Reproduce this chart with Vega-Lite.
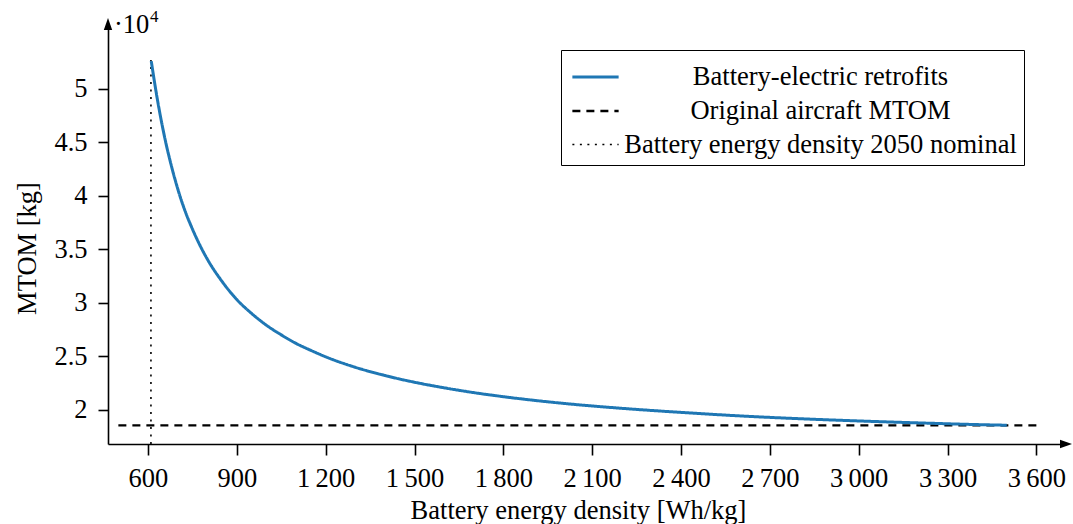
{
  "$schema": "https://vega.github.io/schema/vega-lite/v6.json",
  "width": 958,
  "height": 420,
  "autosize": {"type": "none"},
  "padding": {"left": 108, "top": 24, "right": 7, "bottom": 80},
  "background": "white",
  "config": {
    "view": {"stroke": null},
    "font": "Liberation Serif",
    "axis": {
      "grid": false,
      "domainColor": "black",
      "domainWidth": 1.6,
      "tickColor": "black",
      "tickWidth": 1.6,
      "labelColor": "black",
      "labelFont": "Liberation Serif",
      "labelFontSize": 26.5,
      "titleFont": "Liberation Serif",
      "titleFontSize": 26.5,
      "titleFontWeight": "normal",
      "titleColor": "black",
      "labelOverlap": false,
      "labelFlush": false
    }
  },
  "layer": [
    {
      "data": {
        "values": [
          {"series": "Battery energy density 2050 nominal", "e": 610, "m": 16794},
          {"series": "Battery energy density 2050 nominal", "e": 610, "m": 52700},
          {"series": "Original aircraft MTOM", "e": 500, "m": 18530},
          {"series": "Original aircraft MTOM", "e": 3600, "m": 18530},
          {"series": "Battery-electric retrofits", "e": 611, "m": 52600},
          {"series": "Battery-electric retrofits", "e": 620, "m": 51000},
          {"series": "Battery-electric retrofits", "e": 630, "m": 49300},
          {"series": "Battery-electric retrofits", "e": 640, "m": 47750},
          {"series": "Battery-electric retrofits", "e": 660, "m": 45000},
          {"series": "Battery-electric retrofits", "e": 680, "m": 42700},
          {"series": "Battery-electric retrofits", "e": 700, "m": 40700},
          {"series": "Battery-electric retrofits", "e": 725, "m": 38600},
          {"series": "Battery-electric retrofits", "e": 750, "m": 36900},
          {"series": "Battery-electric retrofits", "e": 775, "m": 35400},
          {"series": "Battery-electric retrofits", "e": 800, "m": 34100},
          {"series": "Battery-electric retrofits", "e": 850, "m": 32000},
          {"series": "Battery-electric retrofits", "e": 900, "m": 30300},
          {"series": "Battery-electric retrofits", "e": 950, "m": 29000},
          {"series": "Battery-electric retrofits", "e": 1000, "m": 27900},
          {"series": "Battery-electric retrofits", "e": 1050, "m": 27000},
          {"series": "Battery-electric retrofits", "e": 1100, "m": 26200},
          {"series": "Battery-electric retrofits", "e": 1150, "m": 25550},
          {"series": "Battery-electric retrofits", "e": 1200, "m": 24950},
          {"series": "Battery-electric retrofits", "e": 1300, "m": 23970},
          {"series": "Battery-electric retrofits", "e": 1400, "m": 23200},
          {"series": "Battery-electric retrofits", "e": 1500, "m": 22570},
          {"series": "Battery-electric retrofits", "e": 1600, "m": 22050},
          {"series": "Battery-electric retrofits", "e": 1700, "m": 21600},
          {"series": "Battery-electric retrofits", "e": 1800, "m": 21220},
          {"series": "Battery-electric retrofits", "e": 2000, "m": 20600},
          {"series": "Battery-electric retrofits", "e": 2200, "m": 20130},
          {"series": "Battery-electric retrofits", "e": 2400, "m": 19750},
          {"series": "Battery-electric retrofits", "e": 2600, "m": 19420},
          {"series": "Battery-electric retrofits", "e": 2800, "m": 19160},
          {"series": "Battery-electric retrofits", "e": 3000, "m": 18950},
          {"series": "Battery-electric retrofits", "e": 3200, "m": 18770},
          {"series": "Battery-electric retrofits", "e": 3400, "m": 18610},
          {"series": "Battery-electric retrofits", "e": 3500, "m": 18550}
        ]
      },
      "mark": {"type": "line", "clip": false, "interpolate": "monotone"},
      "encoding": {
        "x": {
          "field": "e",
          "type": "quantitative",
          "scale": {"domain": [465, 3700], "nice": false, "zero": false},
          "axis": {
            "values": [600, 900, 1200, 1500, 1800, 2100, 2400, 2700, 3000, 3300, 3600],
            "labelExpr": "replace(format(datum.value, ','), ',', '\u2009')",
            "tickSize": 11,
            "labelPadding": 10,
            "title": "Battery energy density [Wh/kg]",
            "titleX": 470,
            "titleY": 74,
            "titleBaseline": "alphabetic",
            "titleAlign": "center"
          }
        },
        "y": {
          "field": "m",
          "type": "quantitative",
          "scale": {"domain": [16794, 56070], "nice": false, "zero": false},
          "axis": {
            "values": [20000, 25000, 30000, 35000, 40000, 45000, 50000],
            "labelExpr": "format(datum.value / 10000, '~g')",
            "tickSize": 10,
            "labelPadding": 11,
            "title": "MTOM [kg]",
            "titleAngle": 270,
            "titleX": -73,
            "titleY": 224,
            "titleBaseline": "alphabetic",
            "titleAlign": "center"
          }
        },
        "color": {
          "field": "series",
          "type": "nominal",
          "scale": {
            "domain": ["Battery-electric retrofits", "Original aircraft MTOM", "Battery energy density 2050 nominal"],
            "range": ["#1f77b4", "black", "black"]
          },
          "legend": {
            "title": null,
            "orient": "none",
            "legendX": 453,
            "legendY": 26,
            "symbolType": "M-1.25,0H1.25",
            "symbolSize": 1369,
            "symbolOffset": 7.5,
            "labelFont": "Liberation Serif",
            "labelFontSize": 26.5,
            "labelColor": "black",
            "labelAlign": "center",
            "labelOffset": 205,
            "labelLimit": 600,
            "strokeColor": "black",
            "fillColor": "white",
            "cornerRadius": 0,
            "padding": 7,
            "rowPadding": 0
          }
        },
        "strokeDash": {
          "field": "series",
          "type": "nominal",
          "scale": {
            "domain": ["Battery-electric retrofits", "Original aircraft MTOM", "Battery energy density 2050 nominal"],
            "range": [[1, 0], [8, 6], [2, 5.5]]
          }
        },
        "strokeWidth": {
          "field": "series",
          "type": "nominal",
          "scale": {
            "domain": ["Battery-electric retrofits", "Original aircraft MTOM", "Battery energy density 2050 nominal"],
            "range": [3, 1.6, 2]
          }
        }
      }
    },
    {
      "data": {"values": [{"e": 465, "m": 56070, "s": "up"}, {"e": 3700, "m": 16794, "s": "right"}]},
      "mark": {"type": "point", "filled": true, "color": "black", "opacity": 1, "size": 144, "clip": false},
      "encoding": {
        "x": {"field": "e", "type": "quantitative"},
        "y": {"field": "m", "type": "quantitative"},
        "shape": {
          "field": "s",
          "type": "nominal",
          "scale": {"domain": ["up", "right"], "range": ["M0,-1L0.7,1L-0.7,1Z", "M1,0L-1,-0.7L-1,0.7Z"]},
          "legend": null
        }
      }
    },
    {
      "data": {"values": [{"e": 465, "m": 56070, "t": "·10"}]},
      "mark": {"type": "text", "align": "left", "baseline": "alphabetic", "dx": 6, "dy": 9, "fontSize": 26.5, "color": "black", "font": "Liberation Serif"},
      "encoding": {
        "x": {"field": "e", "type": "quantitative"},
        "y": {"field": "m", "type": "quantitative"},
        "text": {"field": "t"}
      }
    },
    {
      "data": {"values": [{"e": 465, "m": 56070, "t": "4"}]},
      "mark": {"type": "text", "align": "left", "baseline": "alphabetic", "dx": 42, "dy": -2, "fontSize": 17, "color": "black", "font": "Liberation Serif"},
      "encoding": {
        "x": {"field": "e", "type": "quantitative"},
        "y": {"field": "m", "type": "quantitative"},
        "text": {"field": "t"}
      }
    }
  ]
}
